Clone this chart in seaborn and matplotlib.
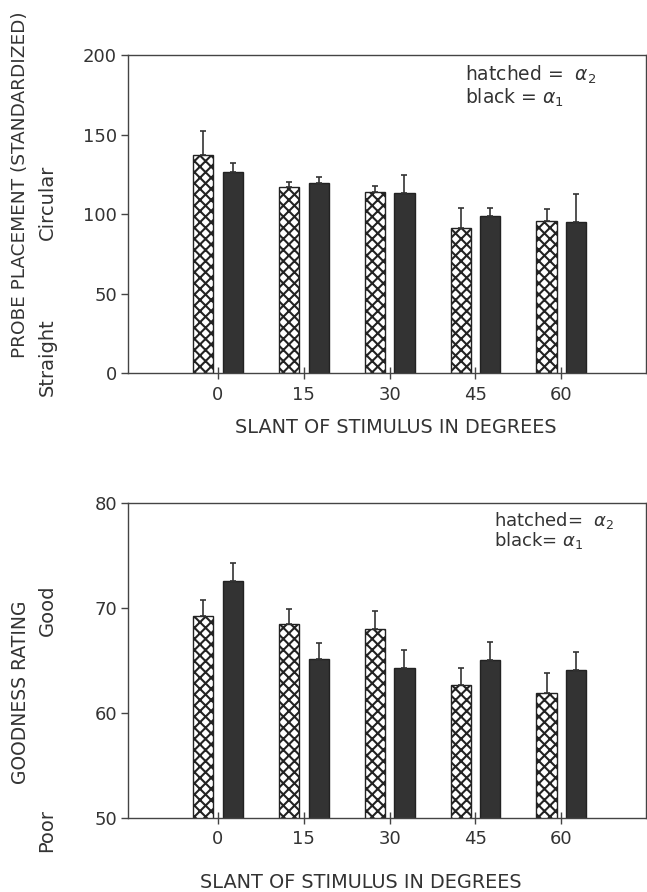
import numpy as np
import pandas as pd
import matplotlib
matplotlib.use('Agg')
import matplotlib.pyplot as plt
import seaborn as sns

slants = [0, 15, 30, 45, 60]
groups = ['hatched', 'black']

# top panel: probe placement
probe_hatched = [137.2, 117.3, 113.7, 91.1, 95.5]
probe_hatched_top = [152.3, 120.4, 117.7, 104.1, 103.0]
probe_black = [126.3, 119.4, 113.1, 98.8, 94.7]
probe_black_top = [132.4, 123.4, 124.8, 103.7, 112.5]

# bottom panel: goodness rating
good_hatched = [69.2, 68.5, 68.0, 62.7, 61.9]
good_hatched_top = [70.75, 69.9, 69.7, 64.3, 63.85]
good_black = [72.6, 65.1, 64.25, 65.05, 64.06]
good_black_top = [74.3, 66.7, 66.0, 66.8, 65.8]


def make_df(h, ht, b, bt):
    return pd.DataFrame({
        'slant': slants * 2,
        'group': ['hatched'] * 5 + ['black'] * 5,
        'value': h + b,
        'top': ht + bt,
    })


df_probe = make_df(probe_hatched, probe_hatched_top, probe_black, probe_black_top)
df_good = make_df(good_hatched, good_hatched_top, good_black, good_black_top)

sns.set_style('ticks')
plt.rcParams['font.family'] = ['DejaVu Sans']
plt.rcParams['hatch.linewidth'] = 1.5
plt.rcParams['hatch.color'] = '#222222'
txt = '#333333'

fig = plt.figure(figsize=(6.47, 8.92), dpi=100)
ax1 = fig.add_axes([0.198, 0.5818, 0.8005, 0.3565])
ax2 = fig.add_axes([0.198, 0.083, 0.8005, 0.353])


def draw(ax, df, ylim, yticks):
    sns.barplot(data=df, x='slant', y='value', hue='group', hue_order=groups,
                native_scale=True, palette={'hatched': 'white', 'black': '#333333'},
                edgecolor='#222222', linewidth=1.0, width=0.69, gap=0.32,
                legend=False, ax=ax)
    for cont, g in zip(ax.containers, groups):
        sub = df[df['group'] == g].set_index('slant')
        for bar in cont:
            if g == 'hatched':
                bar.set_hatch('xxx')
            cx = bar.get_x() + bar.get_width() / 2
            s = min(slants, key=lambda v: abs(v - cx))
            h = sub.loc[s, 'value']
            top = sub.loc[s, 'top']
            ax.errorbar(cx, h, yerr=[[0], [top - h]], fmt='none',
                        ecolor='#333333', elinewidth=1.2, capsize=2.5, capthick=1.2,
                        zorder=3)
    ax.set_xlim(-15.7, 74.8)
    ax.set_ylim(*ylim)
    ax.set_yticks(yticks)
    ax.set_xticks(slants)
    ax.set_xticklabels([str(s) for s in slants])
    ax.set_xlabel('')
    ax.set_ylabel('')
    for sp in ax.spines.values():
        sp.set_visible(True)
        sp.set_color('#444444')
        sp.set_linewidth(1.0)
    ax.tick_params(axis='y', direction='out', length=5, width=1, colors='#444444',
                   labelcolor=txt, labelsize=13, pad=3)
    ax.tick_params(axis='x', direction='inout', length=8, width=1, colors='#444444',
                   labelcolor=txt, labelsize=13, pad=5)


draw(ax1, df_probe, (0, 200), [0, 50, 100, 150, 200])
draw(ax2, df_good, (50, 80), [50, 60, 70, 80])

# labels
fig.text(0.031, 0.793, 'PROBE PLACEMENT (STANDARDIZED)', rotation=90,
         ha='center', va='center', fontsize=13.3, color=txt)
fig.text(0.0726, 0.7735, 'Circular', rotation=90, ha='center', va='center',
         fontsize=14, color=txt)
fig.text(0.0726, 0.5998, 'Straight', rotation=90, ha='center', va='center',
         fontsize=14, color=txt)
fig.text(0.612, 0.5202, 'SLANT OF STIMULUS IN DEGREES', ha='center', va='center',
         fontsize=13.9, color=txt)

fig.text(0.031, 0.2242, 'GOODNESS RATING', rotation=90, ha='center', va='center',
         fontsize=13.5, color=txt)
fig.text(0.0726, 0.316, 'Good', rotation=90, ha='center', va='center',
         fontsize=14, color=txt)
fig.text(0.0726, 0.0695, 'Poor', rotation=90, ha='center', va='center',
         fontsize=14, color=txt)
fig.text(0.557, 0.0112, 'SLANT OF STIMULUS IN DEGREES', ha='center', va='center',
         fontsize=13.9, color=txt)

fig.text(0.7187, 0.916, r'hatched =  $\alpha_2$', ha='left', va='center',
         fontsize=13.5, color=txt)
fig.text(0.7187, 0.890, r'black = $\alpha_1$', ha='left', va='center',
         fontsize=13.5, color=txt)
fig.text(0.7635, 0.4165, r'hatched=  $\alpha_2$', ha='left', va='center',
         fontsize=13, color=txt)
fig.text(0.7635, 0.3945, r'black= $\alpha_1$', ha='left', va='center',
         fontsize=13, color=txt)

fig.savefig('out.png', dpi=100)
